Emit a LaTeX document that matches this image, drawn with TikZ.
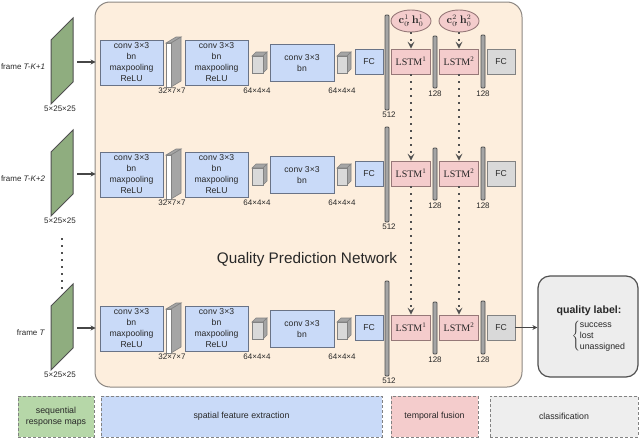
\documentclass[tikz,border=0pt]{standalone}
\usepackage[no-math]{fontspec}
\setmainfont{Liberation Sans}
\newfontfamily\lstmfont{Liberation Serif}
\usetikzlibrary{arrows.meta,shapes.geometric}
\definecolor{peach}{RGB}{253,238,221}
\definecolor{peachborder}{RGB}{140,135,130}
\definecolor{convblue}{RGB}{201,218,248}
\definecolor{convborder}{RGB}{105,115,135}
\definecolor{lstmpink}{RGB}{244,204,204}
\definecolor{pinkborder}{RGB}{150,120,120}
\definecolor{fcgray}{RGB}{217,217,217}
\definecolor{grayborder}{RGB}{130,130,130}
\definecolor{framegreen}{RGB}{143,173,127}
\definecolor{frameborder}{RGB}{80,80,80}
\definecolor{leggreen}{RGB}{182,215,168}
\definecolor{leggray}{RGB}{238,238,238}
\definecolor{txt}{RGB}{40,40,40}
\definecolor{barfill}{RGB}{165,165,165}
\definecolor{bardraw}{RGB}{80,80,80}
\definecolor{dotcol}{RGB}{80,80,80}
\definecolor{arrowcol}{RGB}{70,70,70}
\definecolor{qfill}{RGB}{237,237,237}
\begin{document}
\begin{tikzpicture}[x=1pt,y=-1pt,
  every node/.style={text=txt},
  convbox/.style={draw=convborder, fill=convblue, line width=0.9pt, inner sep=0pt, align=center, font=\fontsize{8.6}{11}\selectfont},
  lstmbox/.style={draw=pinkborder, fill=lstmpink, line width=0.9pt, inner sep=0pt, minimum width=39pt, minimum height=25pt, font=\lstmfont\fontsize{10}{12}\selectfont},
  fcbox/.style={draw=grayborder, fill=fcgray, line width=0.9pt, inner sep=0pt, minimum width=28pt, minimum height=25pt, font=\fontsize{8.6}{11}\selectfont},
  barnode/.style={draw=bardraw, fill=barfill, line width=0.8pt, inner sep=0pt, minimum width=4pt, rounded corners=1pt},
  dimlabel/.style={font=\fontsize{8}{10}\selectfont},
  initstate/.style={ellipse, draw=pinkborder, fill=lstmpink, line width=0.9pt, inner sep=0pt, minimum width=40pt, minimum height=22pt, font=\fontsize{10.5}{12}\selectfont},
  dotarrow/.style={draw=dotcol, line width=1.6pt, dash pattern=on 1.6pt off 5.4pt, -{Stealth[length=7pt,width=7pt,inset=3pt,line width=0pt]}},
  feedarrow/.style={draw=arrowcol, line width=1.3pt, -{Stealth[length=5pt,width=5pt]}},
  legend/.style={draw=grayborder, dash pattern=on 3pt off 2pt, line width=0.9pt, inner sep=0pt, align=center, minimum height=41pt, font=\fontsize{8.8}{11}\selectfont},
  slabfront/.style={draw=grayborder, fill=white, line width=0.6pt},
  slabside/.style={draw=grayborder, fill=barfill, line width=0.6pt},
  cubefront/.style={draw=grayborder, fill=fcgray, line width=0.6pt},
  cubeside/.style={draw=grayborder, fill=barfill, line width=0.6pt}
]
\useasboundingbox (0,0) rectangle (640,439);
% background network panel
\draw[draw=peachborder, fill=peach, line width=1pt, rounded corners=15pt] (95,2) rectangle (522,387);
\node[font=\fontsize{15.3}{18}\selectfont] (title) at (307,260) {Quality Prediction Network};

% rows
\foreach \r/\dy/\lab in {1/0/{T-K+1}, 2/112/{T-K+2}, 3/266/{T}}{
  \begin{scope}[yshift=-\dy pt]
    % input frame
    \draw[draw=frameborder, fill=framegreen, line width=1pt] (51,40) -- (73,18) -- (73,82) -- (51,104) -- cycle;
    \node[anchor=east, font=\fontsize{8}{10}\selectfont] (fl\r) at (48.5,67) {frame \textit{\lab}};
    \node[dimlabel] (fd\r) at (60,109) {5×25×25};
    % conv block 1
    \node[convbox, minimum width=63pt, minimum height=45pt] (ca\r) at (131.5,62.5) {conv 3×3\\bn\\maxpooling\\ReLU};
    \coordinate (inA\r) at (77,62);
    % slab 32x7x7
    \draw[slabside] (166,43) -- (176,37) -- (181,37) -- (171,43) -- cycle;
    \draw[slabside] (171,43) -- (181,37) -- (181,81) -- (171,87) -- cycle;
    \draw[slabfront] (166,43) rectangle (171,87);
    \node[dimlabel] (sa\r) at (172,91) {32×7×7};
    % conv block 2
    \node[convbox, minimum width=63pt, minimum height=45pt] (cb\r) at (216.5,62.5) {conv 3×3\\bn\\maxpooling\\ReLU};
    % cube 64x4x4
    \draw[cubeside] (252,56) -- (256,52) -- (267,52) -- (263,56) -- cycle;
    \draw[cubeside] (263,56) -- (267,52) -- (267,69) -- (263,73) -- cycle;
    \draw[cubefront] (252,56) rectangle (263,73);
    \node[dimlabel] (sb\r) at (257,91) {64×4×4};
    % conv block 3
    \node[convbox, minimum width=64pt, minimum height=37pt] (cc\r) at (302,63) {conv 3×3\\bn};
    % cube 64x4x4
    \draw[cubeside] (337,56) -- (341,52) -- (351,52) -- (347,56) -- cycle;
    \draw[cubeside] (347,56) -- (351,52) -- (351,69) -- (347,73) -- cycle;
    \draw[cubefront] (337,56) rectangle (347,73);
    \node[dimlabel] (sc\r) at (342,91) {64×4×4};
    % FC
    \node[convbox, minimum width=28pt, minimum height=25pt] (fa\r) at (369,61.5) {FC};
    % 512 bar
    \node[barnode, minimum height=95pt] (ba\r) at (387,62.5) {};
    \node[dimlabel] (bla\r) at (389,115) {512};
    % LSTM 1
    \node[lstmbox] (la\r) at (411,61.5) {LSTM\textsuperscript{1}};
    \node[barnode, minimum height=52pt] (bb\r) at (435,62) {};
    \node[dimlabel] (blb\r) at (435,94) {128};
    % LSTM 2
    \node[lstmbox] (lb\r) at (459,61.5) {LSTM\textsuperscript{2}};
    \node[barnode, minimum height=53pt] (bc\r) at (483,61.5) {};
    \node[dimlabel] (blc\r) at (483,94) {128};
    % FC classification
    \node[fcbox] (fb\r) at (501,61.5) {FC};
  \end{scope}
}

% input arrows (end at the panel edge, left of the first conv block)
\draw[feedarrow] (inA1) -- ([xshift=-4pt]ca1.west |- inA1);
\draw[feedarrow] (inA2) -- ([xshift=-4pt]ca2.west |- inA2);
\draw[feedarrow] (inA3) -- ([xshift=-4pt]ca3.west |- inA3);

% initial states
\node[initstate] (ea) at (411,21) {$\mathbf{c}_0^1\!, \mathbf{h}_0^1$};
\node[initstate] (eb) at (459,21) {$\mathbf{c}_0^2\!, \mathbf{h}_0^2$};

% temporal connections
\draw[dotarrow] (ea) -- (la1);
\draw[dotarrow] (eb) -- (lb1);
\draw[dotarrow] (la1) -- (la2);
\draw[dotarrow] (lb1) -- (lb2);
\draw[dotarrow] (la2) -- (la3);
\draw[dotarrow] (lb2) -- (lb3);

% dots between frames
\draw[draw=dotcol, line width=1.6pt, dash pattern=on 1.6pt off 5.4pt] (62,238) -- (62,290);

% quality label box
\node[draw=frameborder, fill=qfill, line width=1.2pt, rounded corners=12pt, minimum width=100pt, minimum height=101pt, inner sep=0pt] (q) at (588,326.5) {};
\node[font=\bfseries\fontsize{10.6}{12}\selectfont] (ql) at (589,310.5) {quality label:};
\node[font=\fontsize{8.8}{11}\selectfont, inner sep=0pt] (qi) at (599,336) {$\left\{\begin{tabular}{@{}l@{}}success\\lost\\unassigned\end{tabular}\right.$};
\draw[feedarrow] (fb3.east) -- (fb3.east -| q.west);

% legend
\node[legend, fill=leggreen, minimum width=76pt] (lg1) at (56,416.5) {sequential\\response maps};
\node[legend, fill=convblue, minimum width=281pt] (lg2) at (241.5,416.5) {spatial feature extraction};
\node[legend, fill=lstmpink, minimum width=87pt] (lg3) at (434.5,416.5) {temporal fusion};
\node[legend, fill=leggray, minimum width=148pt] (lg4) at (564,416.5) {classification};
\end{tikzpicture}
\end{document}
